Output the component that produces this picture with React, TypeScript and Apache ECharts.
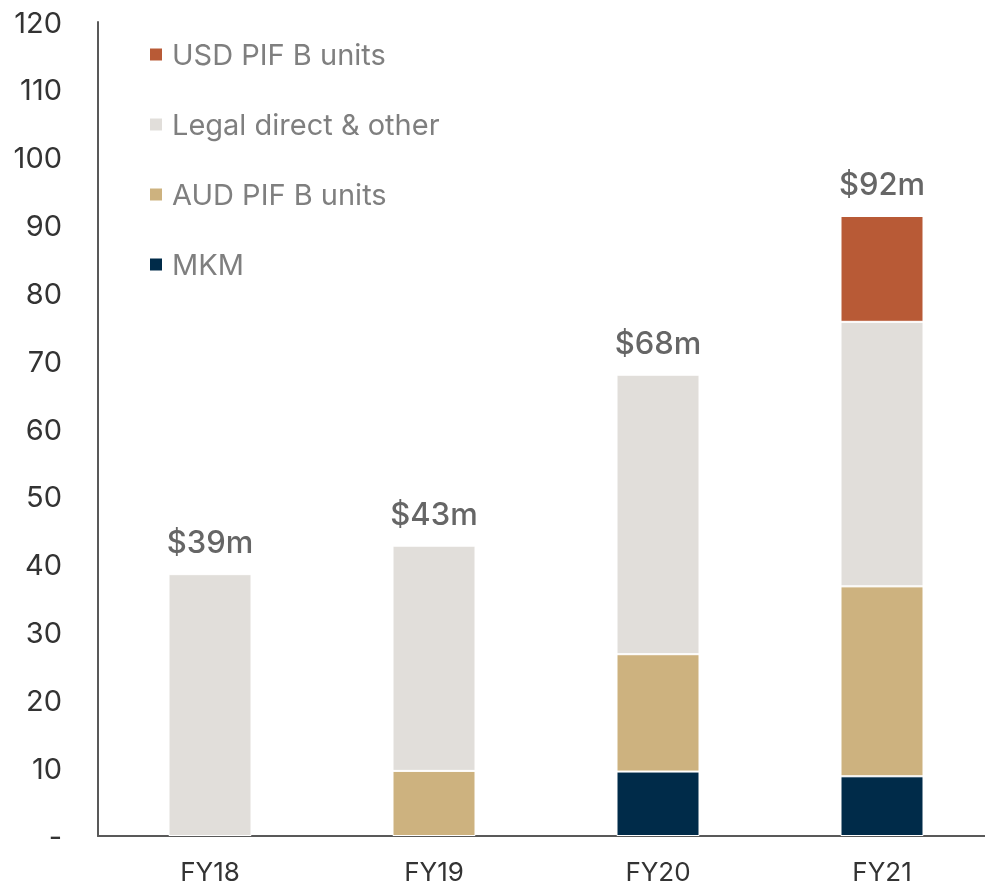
import React, { useEffect, useRef } from "react";
import * as echarts from "echarts";

const categories = ["FY18", "FY19", "FY20", "FY21"];
const mkm = [0, 0, 9.5, 8.8];
const audPif = [0, 9.6, 17.3, 28.0];
const legal = [38.6, 33.2, 41.2, 39.0];
const usdPif = [0, 0, 0, 15.6];
const totalLabels = ["$39m", "$43m", "$68m", "$92m"];
const yTicks = [0, 10, 20, 30, 40, 50, 60, 70, 80, 90, 100, 110, 120];

const FONT = "Inter, 'Noto Sans', sans-serif";

export default function App() {
  const ref = useRef<HTMLDivElement>(null);
  useEffect(() => {
    if (!ref.current) return;
    const chart = echarts.init(ref.current, null, { renderer: "svg" });
    const seg = (name: string, data: number[], color: string) => ({
      name,
      type: "bar",
      stack: "total",
      data: data.map((v) => (v === 0 ? null : v)),
      barWidth: 83,
      itemStyle: { color, borderColor: "#ffffff", borderWidth: 1 },
    });
    chart.setOption({
      animation: false,
      textStyle: { fontFamily: FONT },
      grid: { left: 98, top: 22, width: 896, height: 814, containLabel: false },
      legend: {
        orient: "vertical",
        left: 148,
        top: 38,
        padding: 0,
        itemWidth: 14,
        itemHeight: 14,
        itemGap: 37,
        icon: "rect",
        data: ["USD PIF B units", "Legal direct & other", "AUD PIF B units", "MKM"],
        textStyle: { fontSize: 29, color: "#7f7f7f", fontFamily: FONT, lineHeight: 33, padding: [0, 0, 0, 4] },
      },
      xAxis: {
        type: "category",
        data: categories,
        axisLine: { lineStyle: { color: "#595959", width: 2 } },
        axisTick: { show: false },
        axisLabel: { fontSize: 26, color: "#333333", margin: 22, fontFamily: FONT },
      },
      yAxis: {
        type: "value",
        min: 0,
        max: 120,
        interval: 10,
        splitLine: { show: false },
        axisLine: { show: true, lineStyle: { color: "#595959", width: 2 } },
        axisTick: { show: false },
        axisLabel: {
          fontSize: 29,
          color: "#333333",
          margin: 36,
          fontFamily: FONT,
          formatter: (v: number) => (yTicks.includes(v) ? (v === 0 ? "-" : String(v)) : ""),
        },
      },
      series: [
        seg("MKM", mkm, "#002B49"),
        seg("AUD PIF B units", audPif, "#CDB27F"),
        seg("Legal direct & other", legal, "#E1DEDA"),
        seg("USD PIF B units", usdPif, "#B85A36"),
        {
          name: "totals",
          type: "bar",
          stack: "total",
          barWidth: 83,
          data: categories.map(() => 0),
          itemStyle: { color: "transparent" },
          label: {
            show: true,
            position: "top",
            distance: 17,
            fontSize: 31,
            fontWeight: 500,
            color: "#666666",
            fontFamily: FONT,
            formatter: (p: any) => totalLabels[p.dataIndex],
          },
        },
      ],
    });
    return () => chart.dispose();
  }, []);
  return (
    <div
      ref={ref}
      style={{ position: "fixed", left: 0, top: 0, width: 1000, height: 889 }}
    />
  );
}
